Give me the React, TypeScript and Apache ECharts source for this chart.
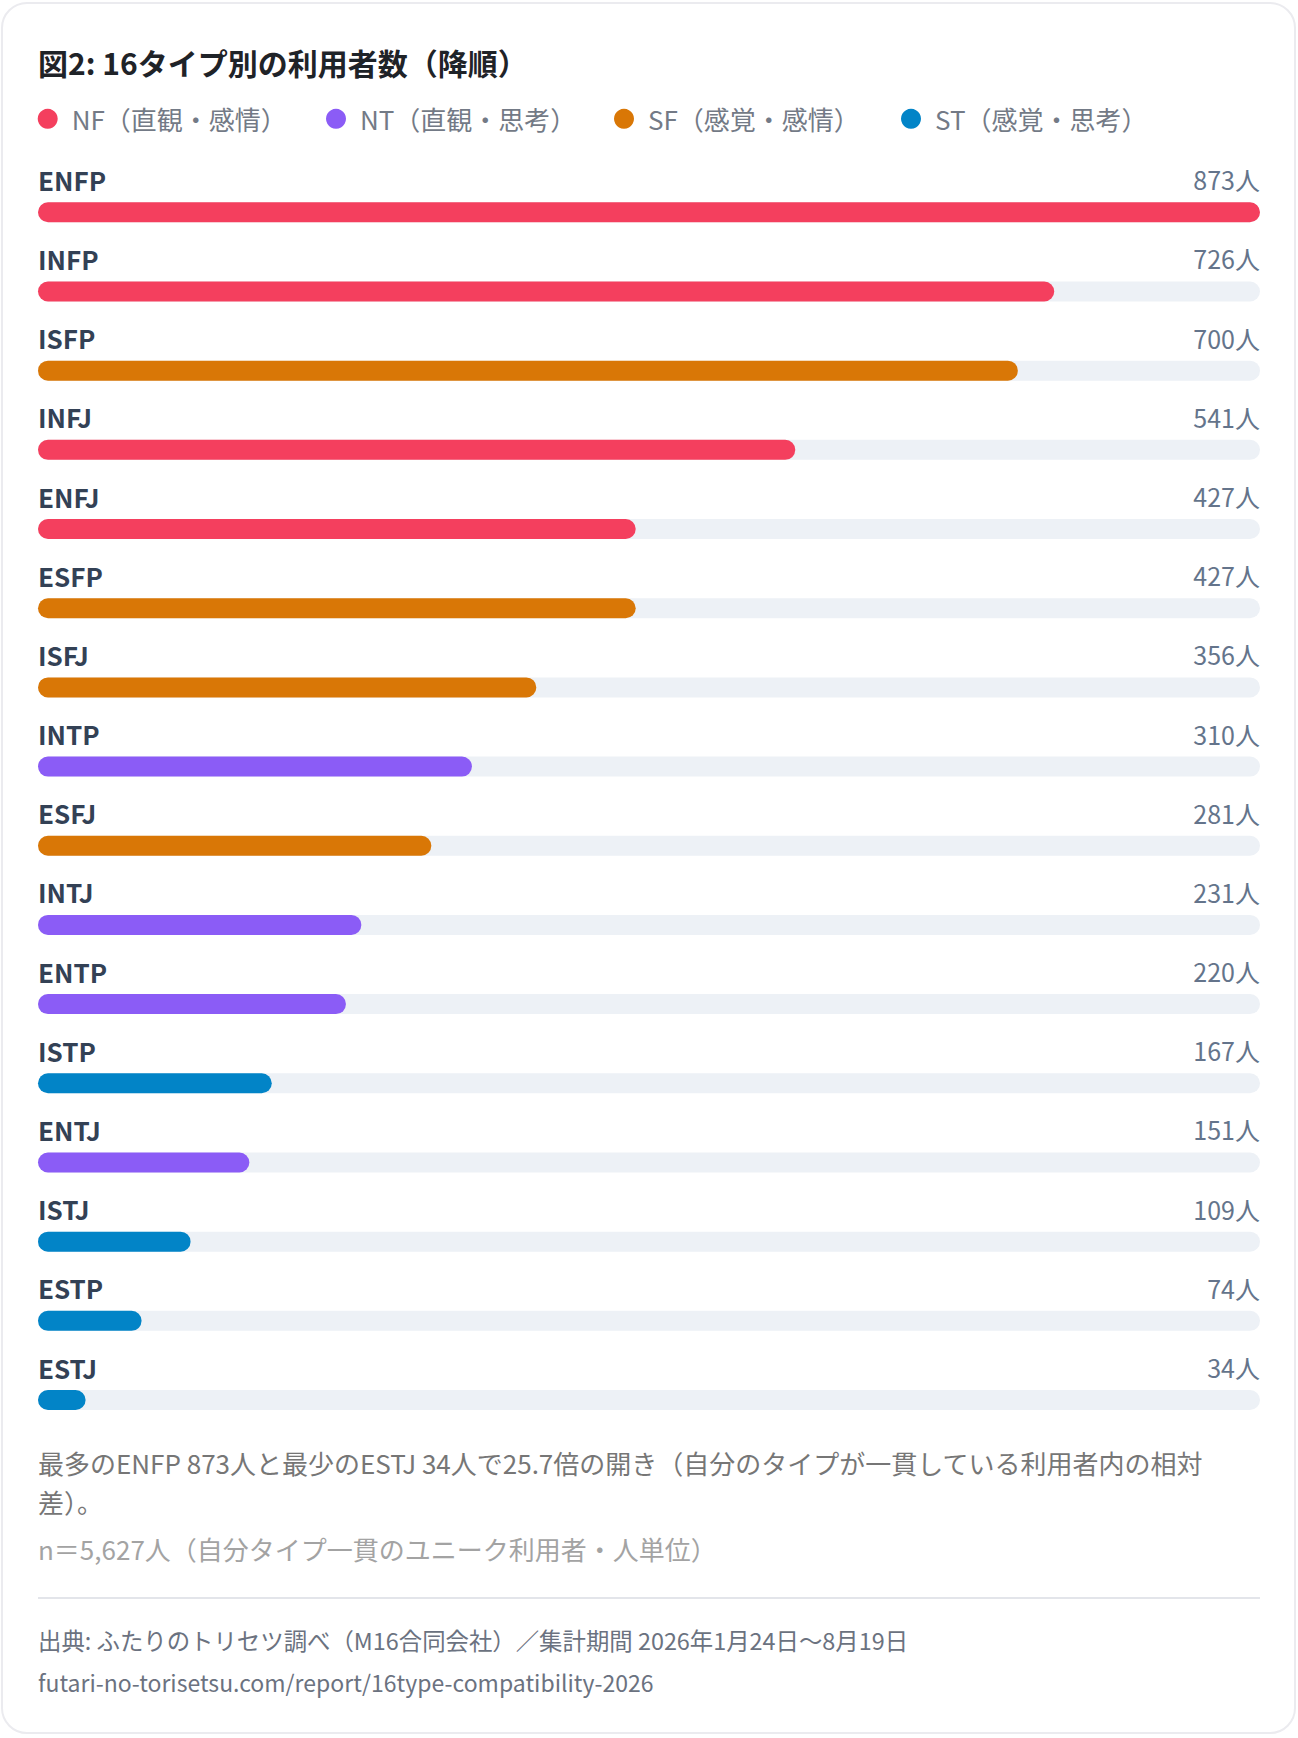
import React, { useEffect, useRef } from "react";
import * as echarts from "echarts";

const categories = ["ENFP", "INFP", "ISFP", "INFJ", "ENFJ", "ESFP", "ISFJ", "INTP", "ESFJ", "INTJ", "ENTP", "ISTP", "ENTJ", "ISTJ", "ESTP", "ESTJ"];
const values = [873, 726, 700, 541, 427, 427, 356, 310, 281, 231, 220, 167, 151, 109, 74, 34];
const groupOf = ["NF", "NF", "SF", "NF", "NF", "SF", "SF", "NT", "SF", "NT", "NT", "ST", "NT", "ST", "ST", "ST"];
const groupKeys = ["NF", "NT", "SF", "ST"];
const groupNames = ["NF（直観・感情）", "NT（直観・思考）", "SF（感覚・感情）", "ST（感覚・思考）"];
const groupColors = ["#f43f5e", "#8b5cf6", "#d97706", "#0284c7"];
const unit = "人";

const titleText = "図2: 16タイプ別の利用者数（降順）";
const noteLine1 = "最多のENFP 873人と最少のESTJ 34人で25.7倍の開き（自分のタイプが一貫している利用者内の相対";
const noteLine2 = "差）。";
const noteLine3 = "n＝5,627人（自分タイプ一貫のユニーク利用者・人単位）";
const sourceText = "出典: ふたりのトリセツ調べ（M16合同会社）／集計期間 2026年1月24日〜8月19日";
const urlText = "futari-no-torisetsu.com/report/16type-compatibility-2026";

const FONT = '"Noto Sans CJK JP", "Noto Sans", sans-serif';
const W = 1298;
const H = 1738;

export default function App() {
  const ref = useRef<HTMLDivElement>(null);

  useEffect(() => {
    if (!ref.current) return;
    const chart = echarts.init(ref.current, null, { renderer: "svg" });
    const maxV = Math.max(...values);
    const legendLefts = [37.7, 326, 614, 901];

    const groupSeries = groupKeys.map((k, gi) => ({
      name: groupNames[gi],
      type: "bar",
      data: values.map((v, i) => (groupOf[i] === k ? v : "-")),
      barWidth: 20,
      barGap: "-100%",
      itemStyle: { color: groupColors[gi], borderRadius: 10 },
      silent: true,
      z: 3,
    }));

    const option: any = {
      animation: false,
      backgroundColor: "transparent",
      textStyle: { fontFamily: FONT },
      grid: { left: 38, right: 38, top: 172.7, bottom: 298.4, containLabel: false },
      xAxis: { type: "value", min: 0, max: maxV, show: false },
      yAxis: { type: "category", data: categories, inverse: true, show: false },
      legend: groupNames.map((n, i) => ({
        data: [n],
        left: legendLefts[i],
        top: 105.8,
        padding: 0,
        icon: "circle",
        itemWidth: 20,
        itemHeight: 20,
        selectedMode: false,
        textStyle: { fontSize: 26, color: "#737a86", fontFamily: FONT, padding: [0, 0, 0, 9] },
      })),
      series: [
        {
          name: "track",
          type: "bar",
          data: categories.map(() => maxV),
          barWidth: 20,
          barGap: "-100%",
          itemStyle: { color: "#edf1f6", borderRadius: 10 },
          silent: true,
          z: 2,
          label: {
            show: true,
            position: "insideLeft",
            distance: 0,
            offset: [0, -33],
            formatter: (p: any) => p.name,
            fontSize: 26,
            fontWeight: "bold",
            color: "#334155",
            fontFamily: FONT,
          },
        },
        ...groupSeries,
        {
          name: "valueLabel",
          type: "bar",
          data: categories.map(() => maxV),
          barWidth: 20,
          barGap: "-100%",
          itemStyle: { color: "rgba(0,0,0,0)" },
          silent: true,
          z: 4,
          label: {
            show: true,
            position: "insideRight",
            distance: 0,
            offset: [0, -33],
            formatter: (p: any) => values[p.dataIndex] + unit,
            fontSize: 25,
            color: "#64748b",
            fontFamily: FONT,
          },
        },
      ],
      graphic: [
        {
          type: "text",
          x: 38,
          y: 62,
          style: { text: titleText, fill: "#1f2328", font: `bold 30px ${FONT}`, verticalAlign: "middle" },
        },
        {
          type: "text",
          x: 38,
          y: 1462,
          style: { text: noteLine1, fill: "#767676", font: `26px ${FONT}`, verticalAlign: "middle" },
        },
        {
          type: "text",
          x: 38,
          y: 1501,
          style: { text: noteLine2, fill: "#767676", font: `26px ${FONT}`, verticalAlign: "middle" },
        },
        {
          type: "text",
          x: 38,
          y: 1548,
          style: { text: noteLine3, fill: "#a3a3a3", font: `26px ${FONT}`, verticalAlign: "middle" },
        },
        {
          type: "line",
          shape: { x1: 38, y1: 1598, x2: 1260, y2: 1598 },
          style: { stroke: "#e3e5ea", lineWidth: 2 },
        },
        {
          type: "text",
          x: 38,
          y: 1640,
          style: { text: sourceText, fill: "#6b7280", font: `23.4px ${FONT}`, verticalAlign: "middle" },
        },
        {
          type: "text",
          x: 38,
          y: 1682,
          style: { text: urlText, fill: "#6b7280", font: `23px ${FONT}`, verticalAlign: "middle" },
        },
      ],
    };

    chart.setOption(option);
    return () => chart.dispose();
  }, []);

  return (
    <div style={{ position: "absolute", left: 0, top: 0, width: W, height: H, background: "#ffffff" }}>
      <div
        style={{
          position: "absolute",
          left: 1,
          top: 2,
          width: 1295,
          height: 1732,
          boxSizing: "border-box",
          border: "2px solid #ebebef",
          borderRadius: 26,
          background: "#ffffff",
        }}
      />
      <div ref={ref} style={{ position: "absolute", left: 0, top: 0, width: W, height: H }} />
    </div>
  );
}
